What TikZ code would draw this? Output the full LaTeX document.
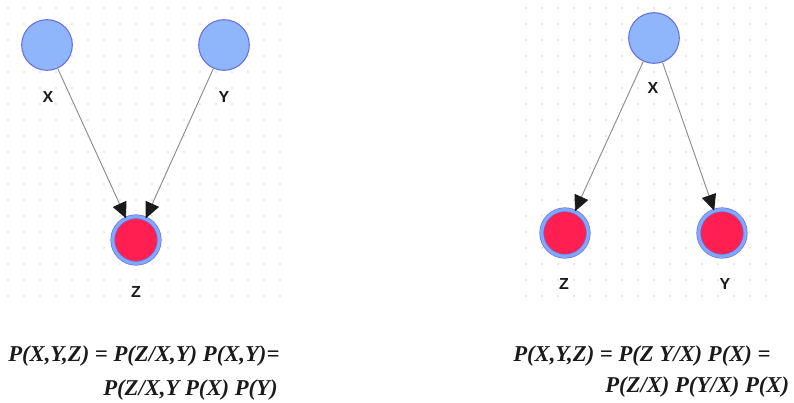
\documentclass[tikz,border=0pt]{standalone}
\usepackage{fontspec}
\setmainfont{Liberation Serif}
\setsansfont{Liberation Sans}
\usepackage{tikz}
\usepackage{xcolor}
\usetikzlibrary{arrows.meta,positioning,calc}
\definecolor{dotgrey}{HTML}{D4D4D4}
\definecolor{rootfill}{HTML}{8FB6FA}
\definecolor{rootline}{HTML}{6A6FE0}
\definecolor{leaffill}{HTML}{FF1F50}
\definecolor{ringlight}{HTML}{7FA8FF}
\definecolor{edgegrey}{HTML}{8C8C8C}
\definecolor{ink}{HTML}{1A1A1A}
\tikzset{
  parent/.style={circle, fill=rootfill, draw=rootline, line width=0.8pt,
                 minimum size=38pt, inner sep=0pt},
  child/.style={circle, fill=leaffill, draw=rootline, line width=0.5pt,
                double=ringlight, double distance=2.4pt,
                minimum size=35pt, inner sep=0pt},
  varlabel/.style={font=\sffamily\bfseries\large, text=ink},
  edge/.style={draw=edgegrey, line width=0.7pt,
               -{Triangle[length=12pt,width=11pt,fill=ink,color=ink]}},
  formula/.style={font=\bfseries\itshape\fontsize{17}{19}\selectfont,
                  text=ink, inner sep=0pt}
}

\begin{document}
\begin{tikzpicture}[x=0.75pt,y=-0.75pt]
        \useasboundingbox (0,0) rectangle (794,403);
        % dotted backdrop
        \foreach \gx in {8,24,...,280} \foreach \gy in {8,24,...,305}
          \fill[dotgrey] (\gx,\gy) circle (0.6pt);
        \foreach \gx in {526,542,...,780} \foreach \gy in {8,24,...,305}
          \fill[dotgrey] (\gx,\gy) circle (0.6pt);

        % left: X and Y both cause Z
        \node[parent] (lx) at (47,45) {};
        \node[parent] (ly) at (224,45) {};
        \node[child]  (lz) at (136,240) {};
        \node[varlabel] (lxl) at (48,97) {X};
        \node[varlabel] (lyl) at (224,97) {Y};
        \node[varlabel] (lzl) at (136,292) {Z};
        \draw[edge] (lx) -- (lz);
        \draw[edge] (ly) -- (lz);

        % right: X causes Z and Y
        \node[parent] (rx) at (654,38) {};
        \node[child]  (rz) at (565,233) {};
        \node[child]  (ry) at (722,233) {};
        \node[varlabel] (rxl) at (653,88) {X};
        \node[varlabel] (rzl) at (564,284) {Z};
        \node[varlabel] (ryl) at (725,284) {Y};
        \draw[edge] (rx) -- (rz);
        \draw[edge] (rx) -- (ry);

        % factorisations
        \node[formula,anchor=west] (lf1) at (8,356) {P(X,Y,Z) = P(Z/X,Y) P(X,Y)=};
        \node[formula,anchor=west] (lf2) at (103,390) {P(Z/X,Y P(X) P(Y)};
        \node[formula,anchor=west] (rf1) at (513,356) {P(X,Y,Z) = P(Z Y/X) P(X) =};
        \node[formula,anchor=west] (rf2) at (605,387) {P(Z/X) P(Y/X) P(X)};
      \end{tikzpicture}
\end{document}
